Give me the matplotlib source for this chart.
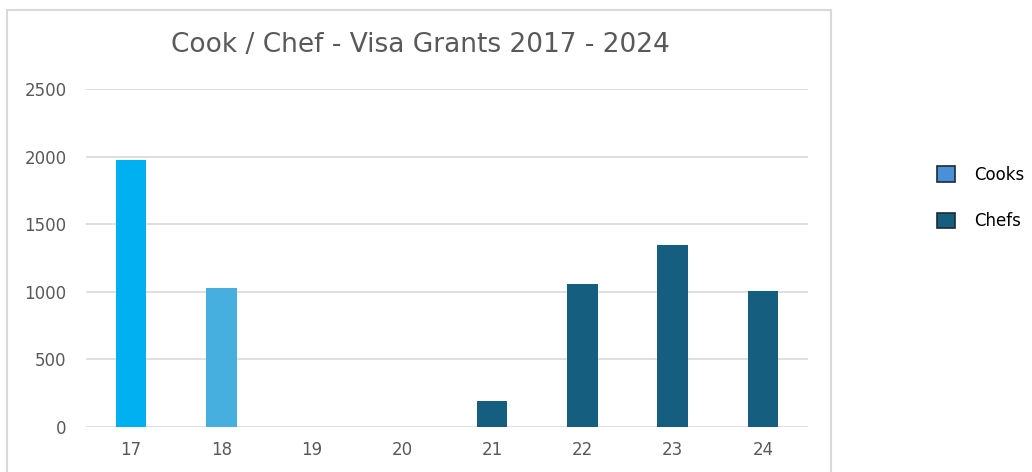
import matplotlib
matplotlib.use("Agg")
import matplotlib.pyplot as plt
from matplotlib.patches import Patch, Rectangle

# bar data
years = ["17", "18", "19", "20", "21", "22", "23", "24"]
grants = [1975, 1030, 0, 0, 190, 1058, 1348, 1008]
bar_colors = ["#00B0F0", "#47AFE0", "#155E80", "#155E80",
              "#155E80", "#155E80", "#155E80", "#155E80"]
legend_labels = ["Cooks", "Chefs"]
legend_colors = ["#4A90D9", "#155E80"]
y_ticks = [0, 500, 1000, 1500, 2000, 2500]

plt.rcParams['font.family'] = ['DejaVu Sans']

fig = plt.figure(figsize=(10.32, 4.72), dpi=100)
ax = fig.add_axes([86 / 1032, 1 - 427 / 472, 722 / 1032, 338 / 472])

# outer chart frame
fig.patches.append(Rectangle((7 / 1032, -0.05), 824 / 1032, 1.05 - 10 / 472,
                             transform=fig.transFigure, fill=False,
                             edgecolor="#D9D9D9", linewidth=1.5))

ax.bar(range(len(years)), grants, width=0.34, color=bar_colors, zorder=3)
ax.set_xlim(-0.5, len(years) - 0.5)
ax.set_ylim(0, 2500)
ax.set_xticks(range(len(years)))
ax.set_xticklabels(years)
ax.set_yticks(y_ticks)
ax.grid(axis="y", color="#D9D9D9", linewidth=1.2, zorder=0)
for s in ax.spines.values():
    s.set_visible(False)
ax.tick_params(axis="both", length=0, labelsize=12, colors="#595959")
ax.tick_params(axis="y", pad=14)
ax.tick_params(axis="x", pad=10)

fig.text(420 / 1032, 1 - 45 / 472, "Cook / Chef - Visa Grants 2017 - 2024",
         ha="center", va="center", fontsize=19, color="#595959")

handles = [Patch(facecolor=c, edgecolor="#1F2A33", linewidth=1.2) for c in legend_colors]
fig.legend(handles, legend_labels, loc="center left",
           bbox_to_anchor=(922 / 1032, 1 - 198 / 472), frameon=False,
           fontsize=12, handlelength=1.05, handleheight=1.05,
           handletextpad=1.15, labelspacing=1.7)

fig.savefig("out.png", dpi=100)
